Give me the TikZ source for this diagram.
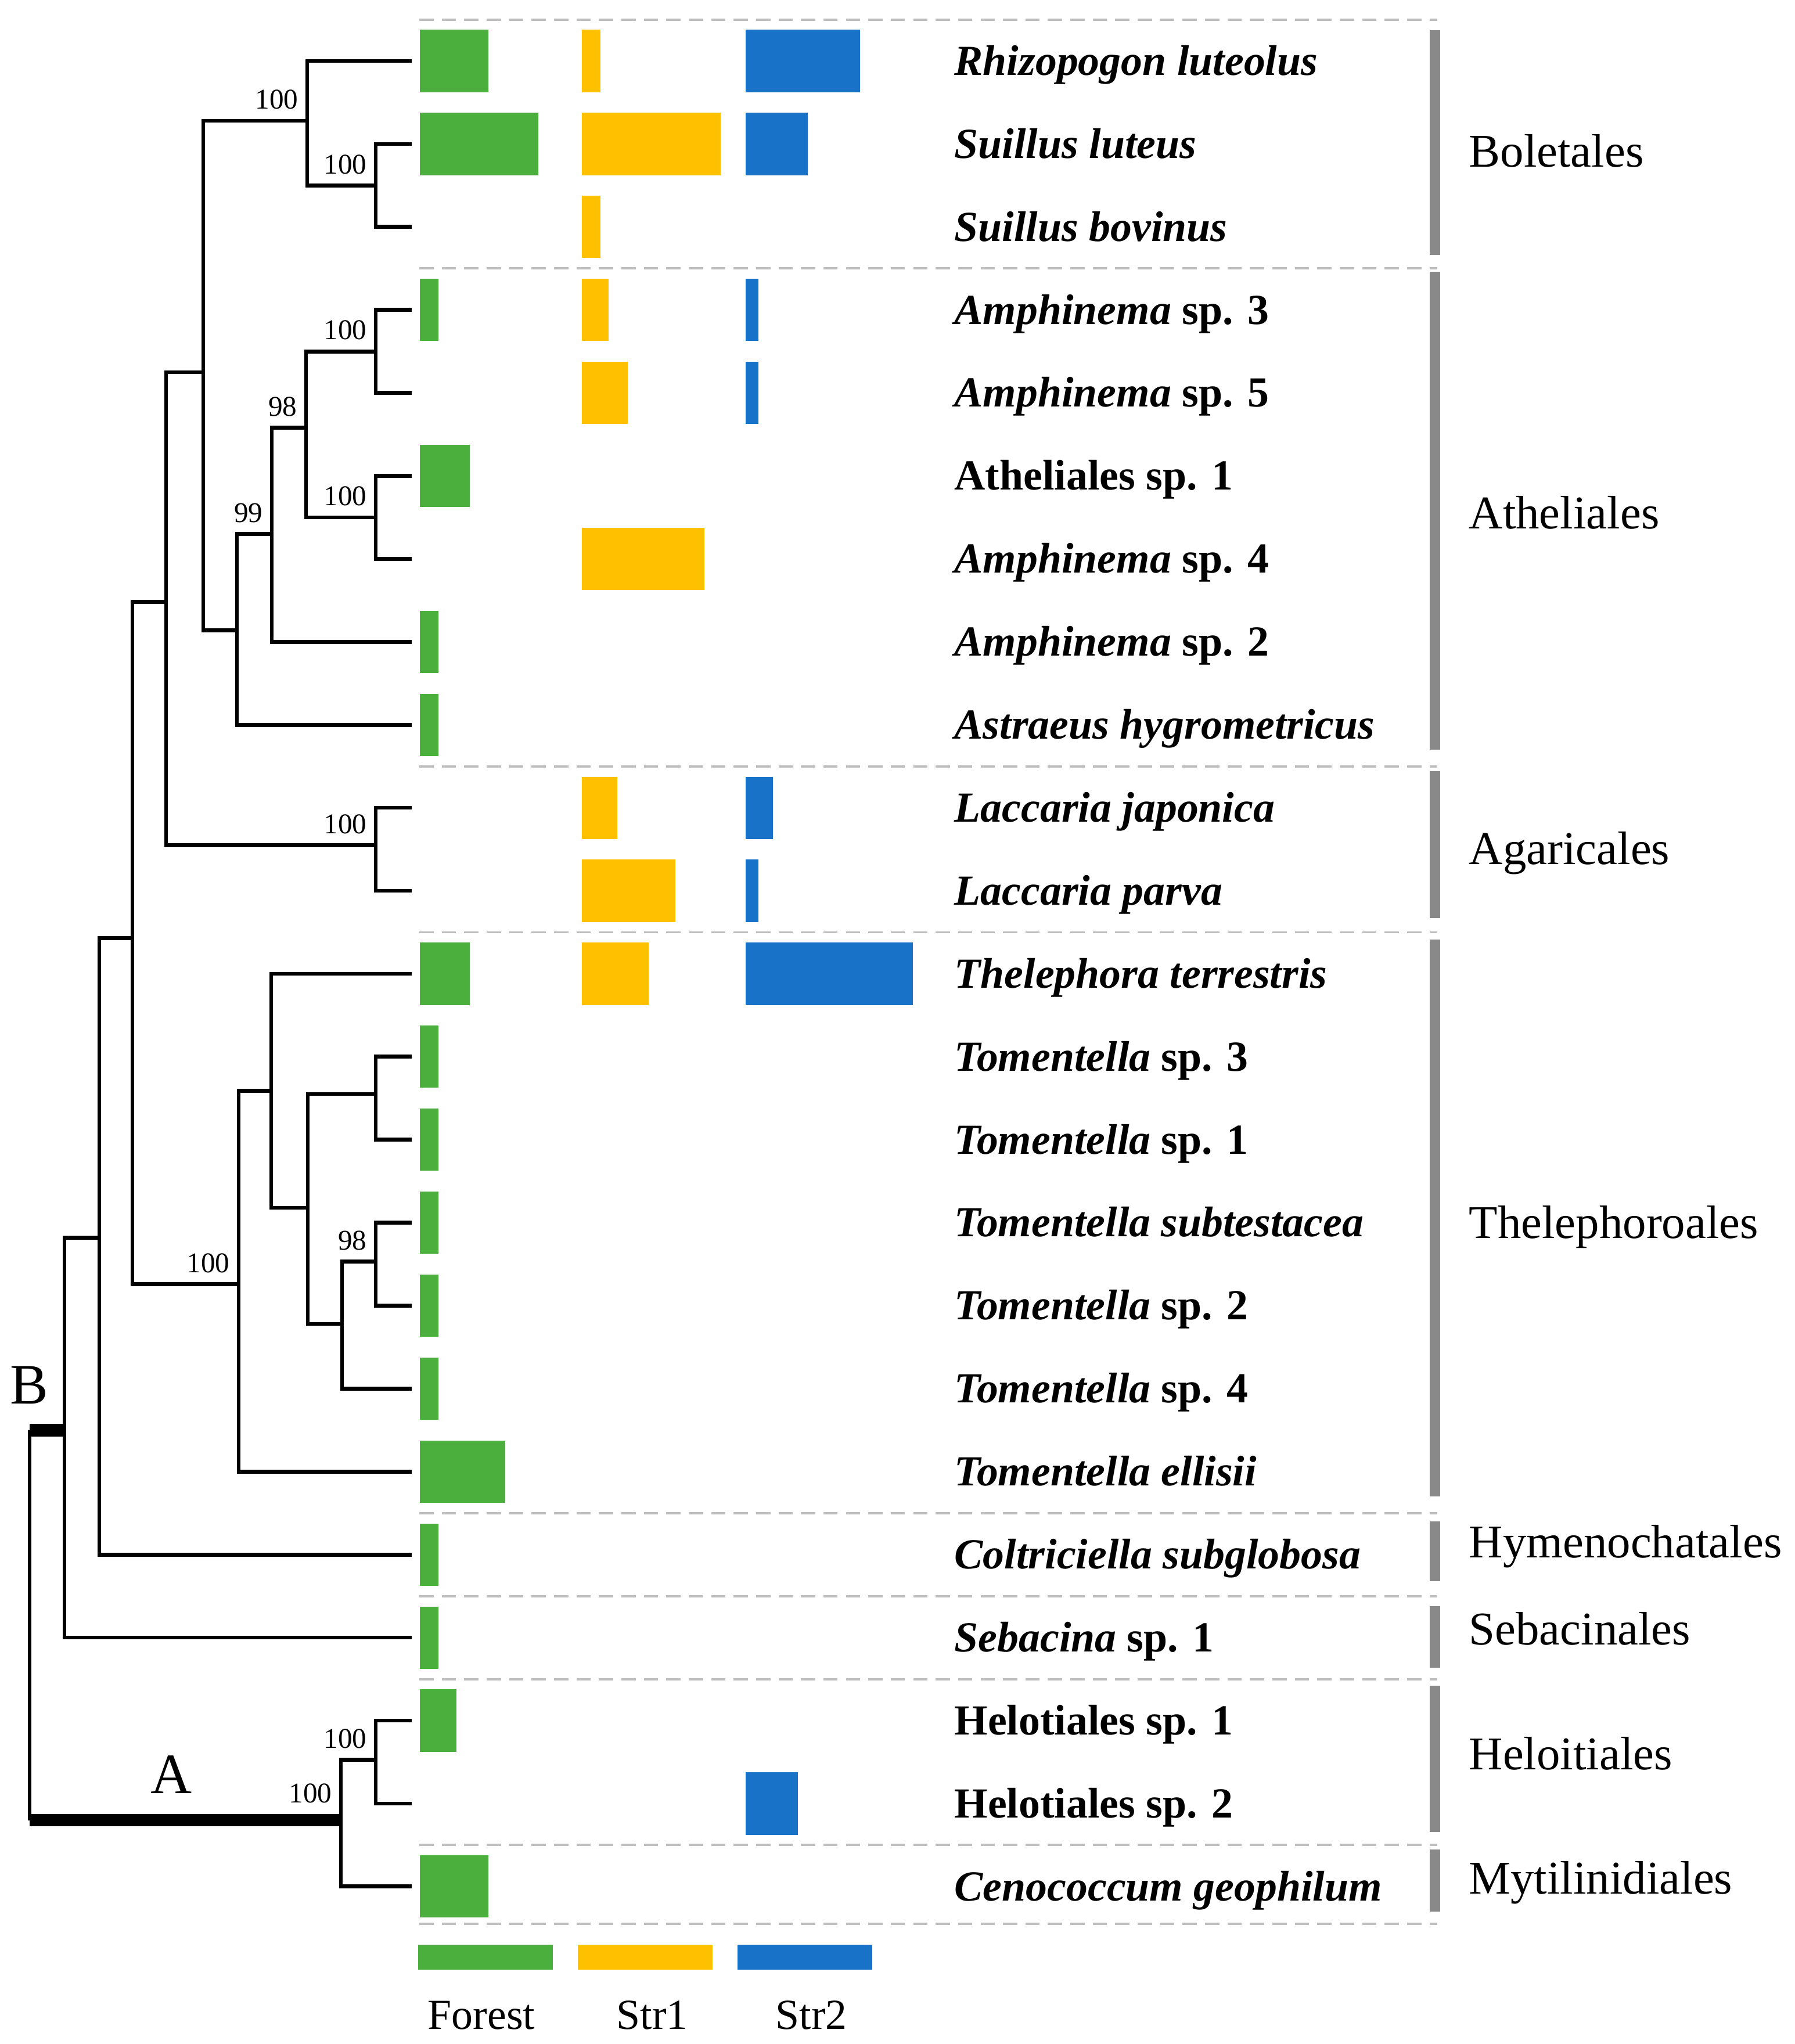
\documentclass[tikz,border=0pt]{standalone}
\usepackage{fontspec}
\setmainfont{Liberation Serif}
\usepackage{tikz}

\definecolor{colForest}{RGB}{74,175,60}
\definecolor{colStrA}{RGB}{255,192,0}
\definecolor{colStrB}{RGB}{24,115,200}
\definecolor{colGroup}{RGB}{137,137,137}
\definecolor{colSep}{RGB}{190,190,190}

\begin{document}
\begin{tikzpicture}[x=1cm, y=-1.429cm,
	branch/.style={line width=1.9pt},
	stem/.style={line width=6.2pt},
	boot/.style={font=\fontsize{14}{16}\selectfont, anchor=south east, inner sep=0pt, xshift=-0.15cm, yshift=0.19cm},
	taxon/.style={font=\fontsize{21}{25}\selectfont\bfseries, anchor=base west, inner sep=0pt},
	order/.style={font=\fontsize{23}{27}\selectfont, anchor=base west, inner sep=0pt},
	clade/.style={font=\fontsize{28}{32}\selectfont, anchor=base, inner sep=0pt},
	legend/.style={font=\fontsize{21}{25}\selectfont, anchor=base, inner sep=0pt},
	sep/.style={colSep, line width=1.1pt, dash pattern=on 7pt off 4pt},
	grp/.style={colGroup, line width=5.4pt}]
	\useasboundingbox (0,-0.735) rectangle (30.91,23.898);

	% Separators between the orders
	\draw[sep] (7.22,-0.5) -- (24.75,-0.5);
	\draw[sep] (7.22,2.5) -- (24.75,2.5);
	\draw[sep] (7.22,8.5) -- (24.75,8.5);
	\draw[sep] (7.22,10.5) -- (24.75,10.5);
	\draw[sep] (7.22,17.5) -- (24.75,17.5);
	\draw[sep] (7.22,18.5) -- (24.75,18.5);
	\draw[sep] (7.22,19.5) -- (24.75,19.5);
	\draw[sep] (7.22,21.5) -- (24.75,21.5);
	\draw[sep] (7.22,22.45) -- (24.75,22.45);

	% Tips and taxon names
	\coordinate (t0) at (7.09,0);
	\node[taxon] (tx0) at (16.43,0.17) {\textit{Rhizopogon luteolus}};
	\coordinate (t1) at (7.09,1);
	\node[taxon] (tx1) at (16.43,1.17) {\textit{Suillus luteus}};
	\coordinate (t2) at (7.09,2);
	\node[taxon] (tx2) at (16.43,2.17) {\textit{Suillus bovinus}};
	\coordinate (t3) at (7.09,3);
	\node[taxon] (tx3) at (16.43,3.17) {\textit{Amphinema} sp. 3};
	\coordinate (t4) at (7.09,4);
	\node[taxon] (tx4) at (16.43,4.17) {\textit{Amphinema} sp. 5};
	\coordinate (t5) at (7.09,5);
	\node[taxon] (tx5) at (16.43,5.17) {Atheliales sp. 1};
	\coordinate (t6) at (7.09,6);
	\node[taxon] (tx6) at (16.43,6.17) {\textit{Amphinema} sp. 4};
	\coordinate (t7) at (7.09,7);
	\node[taxon] (tx7) at (16.43,7.17) {\textit{Amphinema} sp. 2};
	\coordinate (t8) at (7.09,8);
	\node[taxon] (tx8) at (16.43,8.17) {\textit{Astraeus hygrometricus}};
	\coordinate (t9) at (7.09,9);
	\node[taxon] (tx9) at (16.43,9.17) {\textit{Laccaria japonica}};
	\coordinate (t10) at (7.09,10);
	\node[taxon] (tx10) at (16.43,10.17) {\textit{Laccaria parva}};
	\coordinate (t11) at (7.09,11);
	\node[taxon] (tx11) at (16.43,11.17) {\textit{Thelephora terrestris}};
	\coordinate (t12) at (7.09,12);
	\node[taxon] (tx12) at (16.43,12.17) {\textit{Tomentella} sp. 3};
	\coordinate (t13) at (7.09,13);
	\node[taxon] (tx13) at (16.43,13.17) {\textit{Tomentella} sp. 1};
	\coordinate (t14) at (7.09,14);
	\node[taxon] (tx14) at (16.43,14.17) {\textit{Tomentella subtestacea}};
	\coordinate (t15) at (7.09,15);
	\node[taxon] (tx15) at (16.43,15.17) {\textit{Tomentella} sp. 2};
	\coordinate (t16) at (7.09,16);
	\node[taxon] (tx16) at (16.43,16.17) {\textit{Tomentella} sp. 4};
	\coordinate (t17) at (7.09,17);
	\node[taxon] (tx17) at (16.43,17.17) {\textit{Tomentella ellisii}};
	\coordinate (t18) at (7.09,18);
	\node[taxon] (tx18) at (16.43,18.17) {\textit{Coltriciella subglobosa}};
	\coordinate (t19) at (7.09,19);
	\node[taxon] (tx19) at (16.43,19.17) {\textit{Sebacina} sp. 1};
	\coordinate (t20) at (7.09,20);
	\node[taxon] (tx20) at (16.43,20.17) {Helotiales sp. 1};
	\coordinate (t21) at (7.09,21);
	\node[taxon] (tx21) at (16.43,21.17) {Helotiales sp. 2};
	\coordinate (t22) at (7.09,22);
	\node[taxon] (tx22) at (16.43,22.17) {\textit{Cenococcum geophilum}};

	% Inner nodes of the tree
	\coordinate (nSuil) at (6.47,1.5);
	\coordinate (nBol) at (5.29,0.72);
	\coordinate (nAmA) at (6.47,3.5);
	\coordinate (nAmB) at (6.47,5.5);
	\coordinate (nAm98) at (5.27,4.42);
	\coordinate (nAm99) at (4.68,5.70);
	\coordinate (nAth) at (4.08,6.86);
	\coordinate (nBA) at (3.50,3.75);
	\coordinate (nLac) at (6.47,9.45);
	\coordinate (nBAL) at (2.86,6.52);
	\coordinate (nTomA) at (6.47,12.45);
	\coordinate (nTomB) at (6.47,14.47);
	\coordinate (nTomC) at (5.89,15.22);
	\coordinate (nTomD) at (5.30,13.82);
	\coordinate (nThA) at (4.67,12.41);
	\coordinate (nThel) at (4.11,14.74);
	\coordinate (nBALT) at (2.28,10.57);
	\coordinate (nHym) at (1.71,14.18);
	\coordinate (nSeb) at (1.11,16.5);
	\coordinate (nHel) at (6.47,20.47);
	\coordinate (nAsc) at (5.87,21.2);
	\coordinate (rB) at (0.51,16.5);
	\coordinate (rA) at (0.51,21.2);

	% Branches
	%Boletales
	\draw[branch] (t1) -| (nSuil) |- (t2);
	\draw[branch] (t0) -| (nBol) |- (nSuil);
	%Atheliales
	\draw[branch] (t3) -| (nAmA) |- (t4);
	\draw[branch] (t5) -| (nAmB) |- (t6);
	\draw[branch] (nAmA) -| (nAm98) |- (nAmB);
	\draw[branch] (nAm98) -| (nAm99) |- (t7);
	\draw[branch] (nAm99) -| (nAth) |- (t8);
	\draw[branch] (nBol) -| (nBA) |- (nAth);
	%Agaricales
	\draw[branch] (t9) -| (nLac) |- (t10);
	\draw[branch] (nBA) -| (nBAL) |- (nLac);
	%Thelephoroales
	\draw[branch] (t12) -| (nTomA) |- (t13);
	\draw[branch] (t14) -| (nTomB) |- (t15);
	\draw[branch] (nTomB) -| (nTomC) |- (t16);
	\draw[branch] (nTomA) -| (nTomD) |- (nTomC);
	\draw[branch] (t11) -| (nThA) |- (nTomD);
	\draw[branch] (nThA) -| (nThel) |- (t17);
	\draw[branch] (nBAL) -| (nBALT) |- (nThel);
	%Hymenochatales, Sebacinales
	\draw[branch] (nBALT) -| (nHym) |- (t18);
	\draw[branch] (nHym) -| (nSeb) |- (t19);
	%Heloitiales, Mytilinidiales
	\draw[branch] (t20) -| (nHel) |- (t21);
	\draw[branch] (nHel) -| (nAsc) |- (t22);
	%Root
	\draw[branch] (rB) -- (rA);
	\draw[stem] (rB) -- (nSeb);
	\draw[stem] (rA) -- (nAsc);
	\node[clade] (lblB) at (0.50,16.18) {B};
	\node[clade] (lblA) at (2.95,20.875) {A};

	% Bootstrap values
	\node[boot] (bBol) at (nBol) {100};
	\node[boot] (bSuil) at (nSuil) {100};
	\node[boot] (bAmA) at (nAmA) {100};
	\node[boot] (bAmB) at (nAmB) {100};
	\node[boot] (bAm98) at (nAm98) {98};
	\node[boot] (bAm99) at (nAm99) {99};
	\node[boot] (bLac) at (nLac) {100};
	\node[boot] (bThel) at (nThel) {100};
	\node[boot] (bTomB) at (nTomB) {98};
	\node[boot] (bHel) at (nHel) {100};
	\node[boot, yshift=0.1cm] (bAsc) at (nAsc) {100};

	% Bars: Forest
	\fill[colForest] (7.23,-0.375) rectangle ++(1.18,0.75);
	\fill[colForest] (7.23,0.625) rectangle ++(2.04,0.75);
	\fill[colForest] (7.23,2.625) rectangle ++(0.32,0.75);
	\fill[colForest] (7.23,4.625) rectangle ++(0.86,0.75);
	\fill[colForest] (7.23,6.625) rectangle ++(0.32,0.75);
	\fill[colForest] (7.23,7.625) rectangle ++(0.32,0.75);
	\fill[colForest] (7.23,10.625) rectangle ++(0.86,0.75);
	\fill[colForest] (7.23,11.625) rectangle ++(0.32,0.75);
	\fill[colForest] (7.23,12.625) rectangle ++(0.32,0.75);
	\fill[colForest] (7.23,13.625) rectangle ++(0.32,0.75);
	\fill[colForest] (7.23,14.625) rectangle ++(0.32,0.75);
	\fill[colForest] (7.23,15.625) rectangle ++(0.32,0.75);
	\fill[colForest] (7.23,16.625) rectangle ++(1.47,0.75);
	\fill[colForest] (7.23,17.625) rectangle ++(0.32,0.75);
	\fill[colForest] (7.23,18.625) rectangle ++(0.32,0.75);
	\fill[colForest] (7.23,19.625) rectangle ++(0.63,0.75);
	\fill[colForest] (7.23,21.625) rectangle ++(1.18,0.75);
	% Bars: Str1
	\fill[colStrA] (10.02,-0.375) rectangle ++(0.32,0.75);
	\fill[colStrA] (10.02,0.625) rectangle ++(2.39,0.75);
	\fill[colStrA] (10.02,1.625) rectangle ++(0.32,0.75);
	\fill[colStrA] (10.02,2.625) rectangle ++(0.46,0.75);
	\fill[colStrA] (10.02,3.625) rectangle ++(0.79,0.75);
	\fill[colStrA] (10.02,5.625) rectangle ++(2.11,0.75);
	\fill[colStrA] (10.02,8.625) rectangle ++(0.61,0.75);
	\fill[colStrA] (10.02,9.625) rectangle ++(1.61,0.75);
	\fill[colStrA] (10.02,10.625) rectangle ++(1.15,0.75);
	% Bars: Str2
	\fill[colStrB] (12.84,-0.375) rectangle ++(1.97,0.75);
	\fill[colStrB] (12.84,0.625) rectangle ++(1.07,0.75);
	\fill[colStrB] (12.84,2.625) rectangle ++(0.22,0.75);
	\fill[colStrB] (12.84,3.625) rectangle ++(0.22,0.75);
	\fill[colStrB] (12.84,8.625) rectangle ++(0.47,0.75);
	\fill[colStrB] (12.84,9.625) rectangle ++(0.22,0.75);
	\fill[colStrB] (12.84,10.625) rectangle ++(2.88,0.75);
	\fill[colStrB] (12.84,20.625) rectangle ++(0.90,0.75);

	% Orders
	\draw[grp] (24.71,-0.37) -- (24.71,2.34);
	\node[order] (oBol) at (25.29,1.28) {Boletales};
	\draw[grp] (24.71,2.54) -- (24.71,8.30);
	\node[order] (oAth) at (25.29,5.64) {Atheliales};
	\draw[grp] (24.71,8.56) -- (24.71,10.33);
	\node[order] (oAga) at (25.29,9.68) {Agaricales};
	\draw[grp] (24.71,10.59) -- (24.71,17.30);
	\node[order] (oThe) at (25.29,14.19) {Thelephoroales};
	\draw[grp] (24.71,17.60) -- (24.71,18.32);
	\node[order] (oHym) at (25.29,18.04) {Hymenochatales};
	\draw[grp] (24.71,18.62) -- (24.71,19.36);
	\node[order] (oSeb) at (25.29,19.09) {Sebacinales};
	\draw[grp] (24.71,19.58) -- (24.71,21.34);
	\node[order] (oHel) at (25.29,20.59) {Heloitiales};
	\draw[grp] (24.71,21.55) -- (24.71,22.30);
	\node[order] (oMyt) at (25.29,22.09) {Mytilinidiales};

	% Legend
	\fill[colForest] (7.20,22.70) rectangle (9.52,23.0);
	\fill[colStrA] (9.95,22.70) rectangle (12.27,23.0);
	\fill[colStrB] (12.70,22.70) rectangle (15.02,23.0);
	\node[legend] (lgF) at (8.29,23.72) {Forest};
	\node[legend] (lgA) at (11.23,23.72) {Str1};
	\node[legend] (lgB) at (13.97,23.72) {Str2};
\end{tikzpicture}
\end{document}
